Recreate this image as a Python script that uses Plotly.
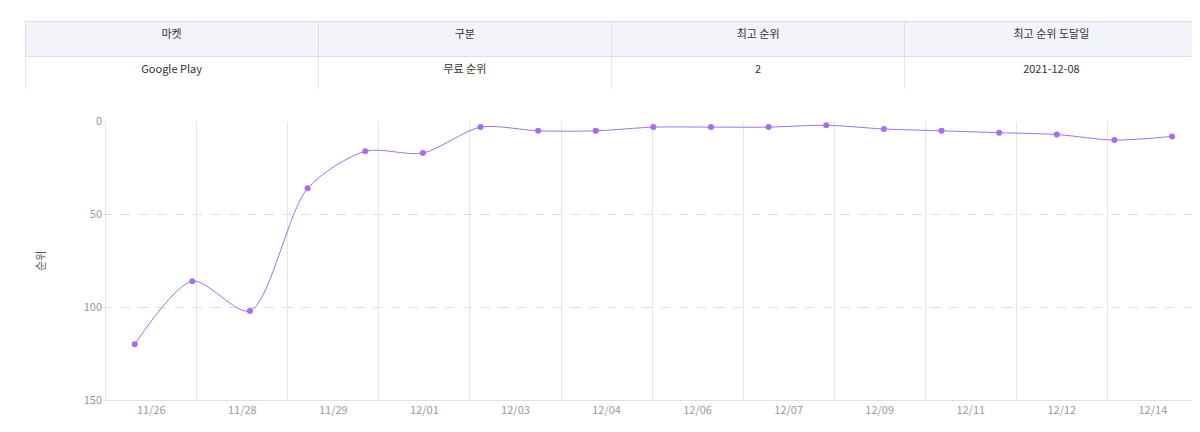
import plotly.graph_objects as go

markets = ["Google Play"]
kinds = ["무료 순위"]
best_rank = ["2"]
best_date = ["2021-12-08"]

ranks = [120, 86, 102, 36, 16, 17, 3, 5, 5, 3, 3, 3, 2, 4, 5, 6, 7, 10, 8]
idx = list(range(len(ranks)))
tick_labels = ["11/26", "11/28", "11/29", "12/01", "12/03", "12/04", "12/06",
               "12/07", "12/09", "12/11", "12/12", "12/14"]
grid0, grid_step = 1.077, 1.58
tick_pos = [grid0 - grid_step / 2 + i * grid_step for i in range(len(tick_labels))]

W, H, B = 1200, 432, 40
ph = H - B  # plot area height with t=0

fig = go.Figure()
fig.add_trace(go.Table(
    domain=dict(x=[17 / 1190, 1], y=[1 - 74 / ph, 1 - 5 / ph]),
    header=dict(values=["마켓", "구분", "최고 순위", "최고 순위 도달일"],
                fill_color="#f3f4f9", line_color="#dcdde8", height=35,
                font=dict(size=11, color="#333"), align="center"),
    cells=dict(values=[markets, kinds, best_rank, best_date],
               fill_color="white", line_color="#e6e6ee", height=33,
               font=dict(size=11, color="#333"), align="center"),
))
fig.add_trace(go.Scatter(
    x=idx, y=ranks, mode="lines+markers",
    line=dict(color="#a56ef2", width=1, shape="spline", smoothing=0.8),
    marker=dict(color="#a56ef2", size=6), showlegend=False,
))
fig.update_layout(
    width=W, height=H, paper_bgcolor="white", plot_bgcolor="white",
    margin=dict(l=0, r=10, t=0, b=B),
    font=dict(family="Noto Sans CJK KR, Lato, sans-serif", color="#999", size=11),
    xaxis=dict(domain=[95 / 1190, 1], range=[-0.55, 18.45], tickvals=tick_pos,
               ticktext=tick_labels, showgrid=False, zeroline=False, showline=True,
               linecolor="#e0e0e0", ticks="", tickfont=dict(size=11, color="#999"),
               minor=dict(tick0=grid0, dtick=grid_step, showgrid=True,
                          gridcolor="#e6e6e6", gridwidth=1)),
    yaxis=dict(domain=[0, 1 - 107 / ph], range=[150, 0], tickvals=[0, 50, 100, 150],
               showgrid=True, gridcolor="#dddddd", griddash="dash", zeroline=False,
               tickfont=dict(size=11, color="#999"),
               title=dict(text="순위", font=dict(size=11, color="#555"), standoff=35)),
)
fig.write_html("out.html")
